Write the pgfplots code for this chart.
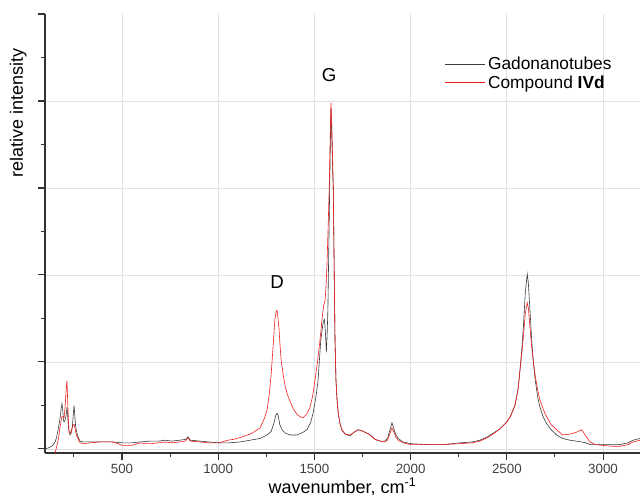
\documentclass[border=0pt]{standalone}
\usepackage{pgfplots}
\pgfplotsset{compat=1.18}
\usepackage{fontspec}
\setmainfont{Liberation Sans}
\definecolor{axgray}{RGB}{50,50,50}
\definecolor{gadogray}{RGB}{60,60,60}
\definecolor{gridgray}{RGB}{225,225,225}
\definecolor{cmpred}{RGB}{240,30,30}
\begin{document}
\begin{tikzpicture}
\begin{axis}[
  scale only axis,
  width=446pt, height=329pt,
  xmin=100, xmax=3192,
  ymin=-0.046, ymax=5,
  axis x line*=bottom, axis y line*=left,
  axis line style={axgray, line width=0.9pt},
  xtick={500,1000,...,3000},
  minor xtick={250,750,...,2750},
  ytick={0,1,2,3,4},
  extra y ticks={5},
  extra y tick labels={},
  extra y tick style={ymajorgrids=false},
  minor ytick={0.5,1.5,2.5,3.5,4.5},
  yticklabels={},
  tick align=outside,
  major tick length=5pt,
  minor tick length=3pt,
  tick style={axgray, line width=0.8pt},
  xmajorgrids, ymajorgrids,
  major grid style={gridgray, line width=0.6pt},
  /pgf/number format/assume math mode=true,
  /pgf/number format/1000 sep={},
  ticklabel style={font=\fontsize{10}{12}\selectfont, text=black!75},
  xlabel={wavenumber, cm\textsuperscript{-1}},
  ylabel={relative intensity},
  label style={font=\fontsize{13.5}{16}\selectfont},
  xlabel style={at={(axis description cs:0.5,-0.045)}, anchor=north},
  ylabel style={at={(axis description cs:-0.045,0.774)}, anchor=center},
  legend style={draw=none, fill=none, at={(axis description cs:0.665,0.915)}, anchor=north west,
    font=\fontsize{13}{15}\selectfont, row sep=-1pt},
  legend cell align=left,
  legend image post style={xscale=1.75},
  clip=true,
]
\addplot[color=gadogray, line width=0.45pt] coordinates {
(100,0.00)(115,0.01)(126,0.02)(140,0.04)(152,0.08)(160,0.13)(168,0.22)(178,0.35)(184,0.47)(188,0.52)
(192,0.45)(196,0.33)(199,0.31)(204,0.33)(209,0.38)(214,0.48)(218,0.38)(222,0.25)(226,0.19)(230,0.16)
(236,0.18)(242,0.25)(247,0.40)(251,0.50)(255,0.38)(259,0.26)(264,0.20)(271,0.14)(282,0.09)(300,0.08)
(334,0.08)(386,0.08)(450,0.08)(500,0.07)(550,0.07)(594,0.08)(650,0.09)(690,0.09)(723,0.10)(760,0.09)
(800,0.10)(830,0.11)(843,0.14)(855,0.10)(905,0.09)(950,0.08)(1004,0.07)(1060,0.07)(1113,0.08)(1165,0.10)
(1217,0.12)(1254,0.16)(1275,0.20)(1290,0.30)(1300,0.39)(1306,0.41)(1312,0.38)(1320,0.28)(1332,0.22)(1350,0.18)
(1373,0.16)(1409,0.16)(1440,0.19)(1461,0.22)(1480,0.30)(1493,0.41)(1508,0.60)(1519,0.79)(1533,1.25)(1545,1.45)
(1552,1.49)(1557,1.35)(1562,1.11)(1566,1.30)(1570,1.60)(1576,2.50)(1582,3.40)(1586,3.92)(1590,3.60)(1595,3.20)
(1598,3.00)(1603,2.00)(1607,1.25)(1612,0.79)(1618,0.55)(1624,0.41)(1632,0.30)(1642,0.22)(1660,0.17)(1685,0.15)
(1705,0.19)(1726,0.22)(1745,0.21)(1765,0.19)(1789,0.16)(1815,0.11)(1841,0.09)(1865,0.09)(1880,0.12)(1893,0.22)
(1903,0.30)(1912,0.24)(1922,0.17)(1935,0.12)(1960,0.08)(2000,0.06)(2085,0.05)(2170,0.05)(2257,0.07)(2320,0.08)
(2360,0.10)(2400,0.14)(2428,0.18)(2464,0.23)(2500,0.31)(2520,0.38)(2542,0.50)(2558,0.68)(2568,0.90)(2578,1.15)
(2586,1.40)(2596,1.80)(2606,2.01)(2612,1.90)(2617,1.71)(2624,1.45)(2630,1.22)(2638,1.00)(2647,0.80)(2660,0.60)
(2672,0.48)(2690,0.36)(2707,0.29)(2730,0.22)(2759,0.16)(2790,0.12)(2828,0.10)(2860,0.09)(2889,0.08)(2910,0.07)
(2932,0.05)(3000,0.05)(3088,0.05)(3130,0.07)(3156,0.10)(3192,0.12)
};
\addlegendentry{Gadonanotubes}
\addplot[color=cmpred, line width=0.45pt] coordinates {
(152,-0.05)(160,0.02)(170,0.12)(178,0.25)(184,0.33)(188,0.37)(194,0.37)(199,0.36)(205,0.50)(210,0.70)
(214,0.78)(217,0.60)(221,0.35)(225,0.20)(230,0.18)(235,0.20)(240,0.24)(246,0.27)(251,0.28)(256,0.24)
(261,0.18)(266,0.14)(271,0.12)(282,0.07)(300,0.06)(334,0.07)(386,0.08)(420,0.08)(450,0.08)(480,0.06)
(500,0.04)(550,0.04)(594,0.07)(620,0.06)(650,0.06)(690,0.07)(723,0.08)(760,0.07)(800,0.08)(830,0.09)
(843,0.13)(855,0.09)(905,0.08)(950,0.07)(1004,0.07)(1050,0.10)(1080,0.11)(1113,0.13)(1140,0.15)(1165,0.17)
(1190,0.20)(1217,0.24)(1240,0.35)(1254,0.45)(1265,0.62)(1275,0.85)(1285,1.17)(1295,1.50)(1302,1.59)(1306,1.59)
(1310,1.52)(1316,1.38)(1322,1.17)(1327,1.02)(1338,0.85)(1348,0.72)(1360,0.62)(1373,0.55)(1390,0.46)(1409,0.40)
(1425,0.37)(1441,0.36)(1460,0.40)(1477,0.48)(1490,0.60)(1503,0.79)(1516,1.00)(1529,1.25)(1540,1.50)(1548,1.65)
(1555,1.70)(1560,1.85)(1565,2.10)(1572,2.60)(1578,3.10)(1583,3.70)(1586,3.98)(1590,3.75)(1594,3.40)(1598,3.00)
(1603,2.00)(1607,1.25)(1612,0.79)(1618,0.55)(1624,0.41)(1632,0.30)(1642,0.22)(1660,0.17)(1685,0.16)(1705,0.19)
(1726,0.22)(1745,0.21)(1765,0.19)(1789,0.16)(1815,0.11)(1841,0.09)(1865,0.08)(1880,0.10)(1893,0.18)(1903,0.24)
(1912,0.20)(1922,0.14)(1935,0.10)(1960,0.07)(2000,0.05)(2085,0.05)(2170,0.05)(2257,0.06)(2320,0.07)(2360,0.09)
(2400,0.13)(2428,0.17)(2464,0.23)(2500,0.31)(2520,0.38)(2542,0.50)(2558,0.68)(2568,0.90)(2578,1.10)(2586,1.29)
(2596,1.56)(2606,1.68)(2612,1.62)(2617,1.48)(2624,1.30)(2630,1.15)(2638,1.00)(2647,0.85)(2660,0.68)(2672,0.56)
(2690,0.45)(2707,0.37)(2730,0.28)(2759,0.22)(2790,0.16)(2828,0.17)(2860,0.19)(2889,0.22)(2910,0.15)(2932,0.08)
(2960,0.05)(3000,0.04)(3050,0.03)(3088,0.03)(3130,0.05)(3156,0.08)(3192,0.10)
};
\addlegendentry{Compound \textbf{IVd}}
\node[font=\fontsize{14}{16}\selectfont] at (axis cs:1306,1.92) {D};
\node[font=\fontsize{14}{16}\selectfont] at (axis cs:1576,4.30) {G};
\coordinate (SW) at (rel axis cs:0,0);
\coordinate (NE) at (rel axis cs:1,1);
\end{axis}
\pgfresetboundingbox
\path ([shift={(-33.75pt,-31.5pt)}]SW) rectangle ([shift={(0pt,10.5pt)}]NE);
\end{tikzpicture}
\end{document}
